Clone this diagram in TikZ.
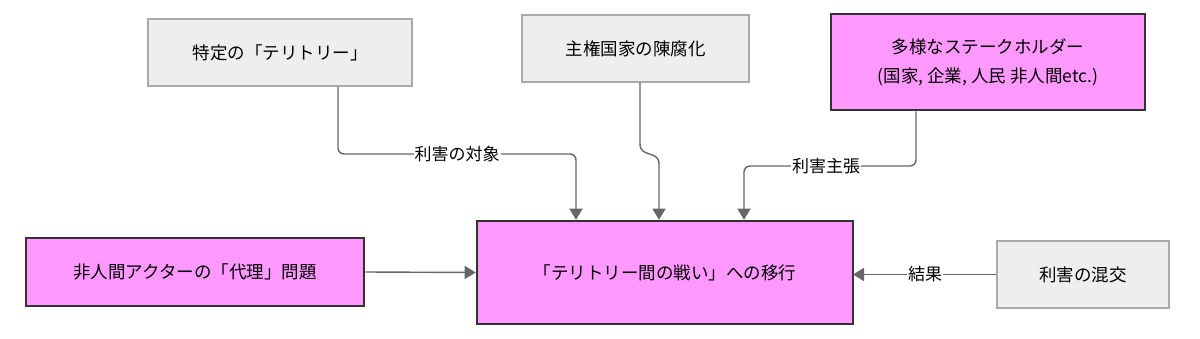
\documentclass[tikz,border=0pt]{standalone}
\usepackage{fontspec}
\setmainfont{Noto Sans CJK JP}
\usetikzlibrary{arrows.meta,calc}
\definecolor{grayfill}{HTML}{EEEEEE}
\definecolor{grayline}{HTML}{AAAAAA}
\definecolor{pinkfill}{HTML}{FF99FF}
\definecolor{darkline}{HTML}{333333}
\definecolor{edgecol}{HTML}{666666}
\tikzset{
  graybox/.style={draw=grayline, fill=grayfill, line width=1.3pt, inner sep=0pt, align=center, font=\fontsize{17.5}{29}\selectfont},
  pinkbox/.style={draw=darkline, fill=pinkfill, line width=2.6pt, inner sep=0pt, align=center, font=\fontsize{17.5}{29}\selectfont},
  conn/.style={draw=edgecol, line width=1.4pt, -{Triangle[width=13pt,length=11pt]}, rounded corners=6pt},
  elabel/.style={fill=white, inner sep=1pt, font=\fontsize{17}{20}\selectfont}
}
\begin{document}
\begin{tikzpicture}[x=1pt,y=-1pt]
\useasboundingbox (0,0) rectangle (1200,339);
\node[graybox, minimum width=264pt, minimum height=67pt] (A) at (280,52.5) {特定の「テリトリー」};
\node[graybox, minimum width=227pt, minimum height=67pt] (B) at (635.5,48.5) {主権国家の陳腐化};
\node[pinkbox, minimum width=314pt, minimum height=96pt] (C) at (988,62) {多様なステークホルダー\\(国家, 企業, 人民 非人間etc.)};
\node[pinkbox, minimum width=338pt, minimum height=68pt] (D) at (195,272) {非人間アクターの「代理」問題};
\node[pinkbox, minimum width=376pt, minimum height=103pt] (E) at (665,272.5) {「テリトリー間の戦い」への移行};
\node[graybox, minimum width=172pt, minimum height=67pt] (F) at (1083,274.5) {利害の混交};

\coordinate (a1) at (338,154);
\coordinate (a2) at (576,154);
\draw[conn] (338,0 |- A.south) -- (a1) -- (a2) -- (576,0 |- E.north);
\node[elabel] (la) at (457,154) {利害の対象};

\draw[conn, rounded corners=0pt] (640,0 |- B.south) -- (640,144) .. controls (640,158) and (659,150) .. (659,164) -- (659,0 |- E.north);

\coordinate (c1) at (916,166);
\coordinate (c2) at (744,166);
\draw[conn] (916,0 |- C.south) -- (c1) -- (c2) -- (744,0 |- E.north);
\node[elabel] (lc) at (826,166) {利害主張};

\draw[conn] (D.east) -- (E.west);

\draw[conn] (F.west) -- (853,0 |- F.west);
\node[elabel] (lf) at (925,274) {結果};
\end{tikzpicture}
\end{document}
